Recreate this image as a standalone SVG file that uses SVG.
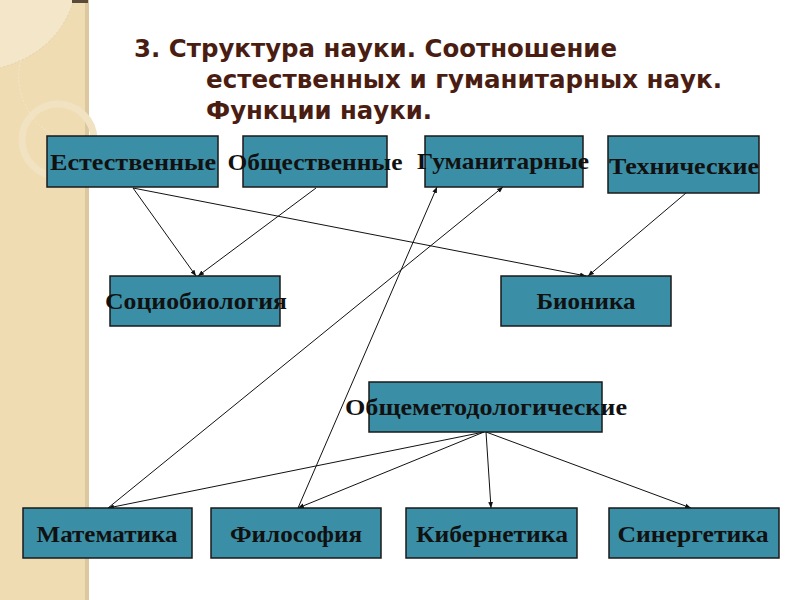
<svg xmlns="http://www.w3.org/2000/svg" width="800" height="600" viewBox="0 0 800 600">
  <defs>
    <style>
      .box { fill: #3a8ea5; stroke: #1a1a1a; stroke-width: 1.5; }
      .lbl { font-family: "Liberation Serif", "Times New Roman", serif; font-weight: bold; font-size: 23px; fill: #111; text-anchor: middle; }
      .title { font-family: "DejaVu Sans", "Noto Sans", sans-serif; font-weight: bold; font-size: 24px; fill: #4a1d12; }
      .con { stroke: #111; stroke-width: 1; fill: none; marker-end: url(#arr); }
    </style>
    <marker id="arr" viewBox="0 0 10 10" refX="10" refY="5" markerWidth="6" markerHeight="6" orient="auto" markerUnits="userSpaceOnUse">
      <path d="M0,1 L10,5 L0,9 z" fill="#111"/>
    </marker>
  </defs>

  <rect x="0" y="0" width="800" height="600" fill="#ffffff"/>
  <!-- left decorative strip -->
  <g id="strip">
    <rect x="0" y="0" width="86" height="600" fill="#efdcb2"/>
    <rect x="85" y="0" width="4" height="600" fill="#dcc79e"/>
    <path d="M0,0 L74,0 Q58,52 0,68 z" fill="#f4e7c9"/>
    <path d="M74,0 Q58,52 0,68" fill="none" stroke="#e6d2a8" stroke-width="1" stroke-dasharray="2,2"/>
    <circle cx="58" cy="140" r="36" fill="none" stroke="#f1e2c2" stroke-width="7"/>
    <path d="M72,2 Q10,40 20,90 Q30,125 55,135" fill="none" stroke="#f4e8cf" stroke-width="1" stroke-dasharray="2,2"/>
    <rect x="72" y="0" width="16" height="3" fill="#5a4a3a"/>
  </g>

  <g id="title">
    <text class="title" x="134" y="57" textLength="483" lengthAdjust="spacingAndGlyphs">3. Структура науки. Соотношение</text>
    <text class="title" x="206" y="88" textLength="516" lengthAdjust="spacingAndGlyphs">естественных и гуманитарных наук.</text>
    <text class="title" x="206" y="119" textLength="226" lengthAdjust="spacingAndGlyphs">Функции науки.</text>
  </g>

  <g id="connectors">
    <line class="con" x1="133" y1="188" x2="196" y2="276"/>
    <line class="con" x1="316" y1="188" x2="198" y2="276"/>
    <line class="con" x1="133" y1="188" x2="586" y2="276"/>
    <line class="con" x1="686" y1="193" x2="588" y2="276"/>
    <line class="con" x1="108" y1="508" x2="503" y2="187"/>
    <line class="con" x1="298" y1="508" x2="437" y2="187"/>
    <line class="con" x1="484" y1="432" x2="108" y2="508"/>
    <line class="con" x1="484" y1="432" x2="298" y2="508"/>
    <line class="con" x1="486" y1="432" x2="491" y2="508"/>
    <line class="con" x1="486" y1="432" x2="691" y2="508"/>
  </g>

  <g id="n-estestvennye">
    <rect class="box" x="47" y="136" width="171" height="51"/>
    <text class="lbl" x="133" y="170" textLength="166" lengthAdjust="spacingAndGlyphs">Естественные</text>
  </g>
  <g id="n-obshchestvennye">
    <rect class="box" x="243" y="136" width="144" height="51"/>
    <text class="lbl" x="315" y="170" textLength="175" lengthAdjust="spacingAndGlyphs">Общественные</text>
  </g>
  <g id="n-gumanitarnye">
    <rect class="box" x="425" y="136" width="158" height="51"/>
    <text class="lbl" x="503" y="169" textLength="172" lengthAdjust="spacingAndGlyphs">Гуманитарные</text>
  </g>
  <g id="n-tekhnicheskie">
    <rect class="box" x="608" y="136" width="151" height="57"/>
    <text class="lbl" x="684" y="174" textLength="150" lengthAdjust="spacingAndGlyphs">Технические</text>
  </g>
  <g id="n-sociobiologiya">
    <rect class="box" x="110" y="276" width="170" height="50"/>
    <text class="lbl" x="196" y="309" textLength="182" lengthAdjust="spacingAndGlyphs">Социобиология</text>
  </g>
  <g id="n-bionika">
    <rect class="box" x="501" y="276" width="170" height="50"/>
    <text class="lbl" x="586" y="309" textLength="99" lengthAdjust="spacingAndGlyphs">Бионика</text>
  </g>
  <g id="n-obshchemetod">
    <rect class="box" x="369" y="382" width="233" height="50"/>
    <text class="lbl" x="486" y="415" textLength="282" lengthAdjust="spacingAndGlyphs">Общеметодологические</text>
  </g>
  <g id="n-matematika">
    <rect class="box" x="23" y="508" width="169" height="50"/>
    <text class="lbl" x="107" y="542" textLength="141" lengthAdjust="spacingAndGlyphs">Математика</text>
  </g>
  <g id="n-filosofiya">
    <rect class="box" x="211" y="508" width="170" height="50"/>
    <text class="lbl" x="296" y="542" textLength="132" lengthAdjust="spacingAndGlyphs">Философия</text>
  </g>
  <g id="n-kibernetika">
    <rect class="box" x="406" y="508" width="171" height="50"/>
    <text class="lbl" x="492" y="542" textLength="152" lengthAdjust="spacingAndGlyphs">Кибернетика</text>
  </g>
  <g id="n-sinergetika">
    <rect class="box" x="609" y="508" width="170" height="50"/>
    <text class="lbl" x="693" y="542" textLength="151" lengthAdjust="spacingAndGlyphs">Синергетика</text>
  </g>
</svg>
